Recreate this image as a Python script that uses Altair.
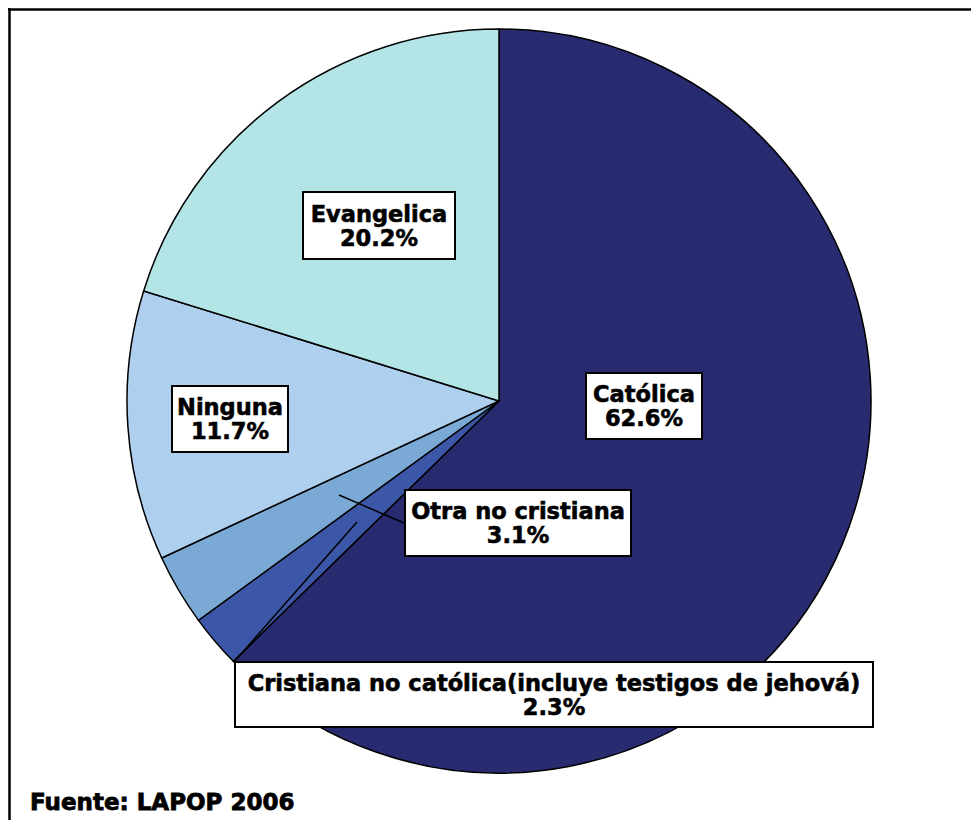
import altair as alt
import pandas as pd

# ---- data ----
categories = ["Católica", "Cristiana no católica(incluye testigos de jehová)",
              "Otra no cristiana", "Ninguna", "Evangelica"]
values = [62.6, 2.3, 3.1, 11.7, 20.2]
colors = ["#292b70", "#3d57a8", "#7aa9d5", "#aecfee", "#b3e5e7"]
source_note = "Fuente: LAPOP 2006"

# ---- layout (pixels, chart coords) ----
W, H = 963, 812
CX, CY, R = 491, 393, 372
FONT = "DejaVu Sans"
FS = 22.5
LH = 24
# label boxes: x, x2, y, y2
boxes = {
    "Católica": (578, 694, 365, 431),
    "Cristiana no católica(incluye testigos de jehová)": (227, 865, 654, 719),
    "Otra no cristiana": (397, 623, 482, 548),
    "Ninguna": (164, 280, 378, 444),
    "Evangelica": (295, 447, 184, 251),
}
# leader lines: x, y, x2, y2
leaders = {
    "Otra no cristiana": (331, 487, 396, 515),
    "Cristiana no católica(incluye testigos de jehová)": (349, 514, 226, 654),
}

df = pd.DataFrame({"cat": categories, "val": values, "ord": list(range(len(categories)))})

pie = alt.Chart(df).mark_arc(stroke="black", strokeWidth=1.5, outerRadius=R).encode(
    theta=alt.Theta("val:Q", stack=True),
    order=alt.Order("ord:Q"),
    color=alt.Color("cat:N", scale=alt.Scale(domain=categories, range=colors), legend=None),
    x=alt.value(CX),
    y=alt.value(CY),
)

lab_rows = []
for c, v in zip(categories, values):
    bx, bx2, by, by2 = boxes[c]
    lab_rows.append({"cat": c, "x": bx, "x2": bx2, "y": by, "y2": by2,
                     "tx": (bx + bx2) / 2, "ty": (by + by2) / 2,
                     "text": f"{c}\n{v:.1f}%"})
lab = pd.DataFrame(lab_rows)

rects = alt.Chart(lab).mark_rect(fill="white", stroke="black", strokeWidth=2).encode(
    x=alt.X("x:Q", scale=None), x2="x2:Q",
    y=alt.Y("y:Q", scale=None), y2="y2:Q",
)

texts = alt.Chart(lab).mark_text(
    font=FONT, fontSize=FS, fontWeight="bold", color="black",
    stroke="black", strokeWidth=0.6,
    align="center", baseline="middle", lineBreak="\n", lineHeight=LH, dy=-LH / 2 + 1,
).encode(
    x=alt.X("tx:Q", scale=None),
    y=alt.Y("ty:Q", scale=None),
    text="text:N",
)

ld = pd.DataFrame([{"x": a, "y": b, "x2": c, "y2": d} for (a, b, c, d) in leaders.values()])
lines = alt.Chart(ld).mark_rule(color="black", strokeWidth=1.5).encode(
    x=alt.X("x:Q", scale=None), y=alt.Y("y:Q", scale=None),
    x2="x2:Q", y2="y2:Q",
)

frame_top = alt.Chart(pd.DataFrame({"a": [0]})).mark_rule(color="black", strokeWidth=2.5).encode(
    x=alt.value(0), x2=alt.value(W), y=alt.value(1.5), y2=alt.value(1.5)
)
frame_left = alt.Chart(pd.DataFrame({"a": [0]})).mark_rule(color="black", strokeWidth=2.5).encode(
    x=alt.value(1.5), x2=alt.value(1.5), y=alt.value(0), y2=alt.value(H)
)
cover_right = alt.Chart(pd.DataFrame({"a": [0]})).mark_rule(color="white", strokeWidth=4).encode(
    x=alt.value(W - 1), x2=alt.value(W - 1), y=alt.value(3), y2=alt.value(H)
)
cover_bottom = alt.Chart(pd.DataFrame({"a": [0]})).mark_rule(color="white", strokeWidth=4).encode(
    x=alt.value(3), x2=alt.value(W), y=alt.value(H - 1), y2=alt.value(H - 1)
)

src = alt.Chart(pd.DataFrame({"t": [source_note]})).mark_text(
    font=FONT, fontSize=23, fontWeight="bold", color="black",
    stroke="black", strokeWidth=0.8,
    align="left", baseline="alphabetic",
).encode(x=alt.value(22), y=alt.value(802), text="t:N")

chart = alt.layer(pie, lines, rects, texts, src, cover_right, cover_bottom,
                  frame_top, frame_left).properties(
    width=W, height=H, padding=0, autosize=alt.AutoSizeParams(type="none"),
    background="white",
).configure_view(stroke="white", strokeWidth=0)

chart.save("out.html", embed_options={"renderer": "svg", "actions": False})
